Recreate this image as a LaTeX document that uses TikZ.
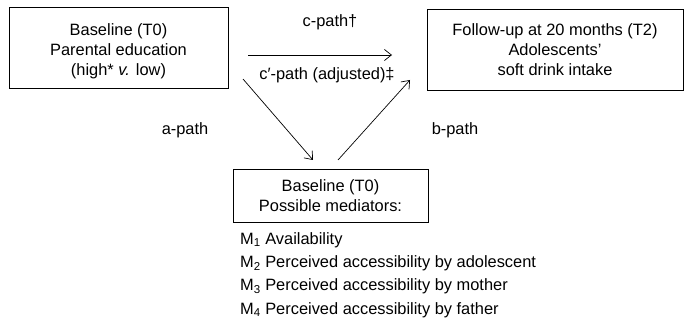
\documentclass[tikz,border=0pt]{standalone}
\usepackage{fontspec}
\setmainfont{Liberation Sans}
\usetikzlibrary{arrows.meta}
\begin{document}
\begin{tikzpicture}[x=1pt,y=-1pt,
  every node/.style={font=\fontsize{16.4}{20}\selectfont},
  box/.style={draw,line width=0.8pt,align=center,inner sep=0pt},
  lbl/.style={inner sep=0pt},
  conn/.style={line width=0.7pt,-{Straight Barb[length=7pt,width=11pt,line width=0.7pt]}}]
\useasboundingbox (0,0) rectangle (686,326);
% boxes
\node[box,minimum width=219,minimum height=81] (edu) at (118.5,48) {};
\node[lbl,align=center] (edutext) at (118.5,51.5)
  {Baseline (T0)\\Parental education\\(high* \textit{v.} low)};
\node[box,minimum width=256,minimum height=81] (out) at (555,49.5)
  {Follow-up at 20 months (T2)\\Adolescents’\\soft drink intake};
\node[box,minimum width=195,minimum height=53] (med) at (330.5,195.5)
  {Baseline (T0)\\Possible mediators:};
% path labels
\node[lbl] (c) at (330,22) {c-path†};
\node[lbl] (cp) at (327,75) {c′-path (adjusted)‡};
\node[lbl] (a) at (185,130) {a-path};
\node[lbl] (b) at (455,130) {b-path};
% mediator list
\node[lbl,anchor=west,align=left] (list) at (240,275)
  {M\textsubscript{1} Availability\\[3.3pt]
   M\textsubscript{2} Perceived accessibility by adolescent\\[3.3pt]
   M\textsubscript{3} Perceived accessibility by mother\\[3.3pt]
   M\textsubscript{4} Perceived accessibility by father};
% connectors
\coordinate (c0) at (248,55);
\coordinate (c1) at (392,55);
\coordinate (a0) at (243,79);
\coordinate (a1) at (313,160);
\coordinate (b0) at (338,160);
\coordinate (b1) at (410,80);
\draw[conn] (c0) -- (c1);
\draw[conn] (a0) -- (a1);
\draw[conn] (b0) -- (b1);
\end{tikzpicture}
\end{document}
